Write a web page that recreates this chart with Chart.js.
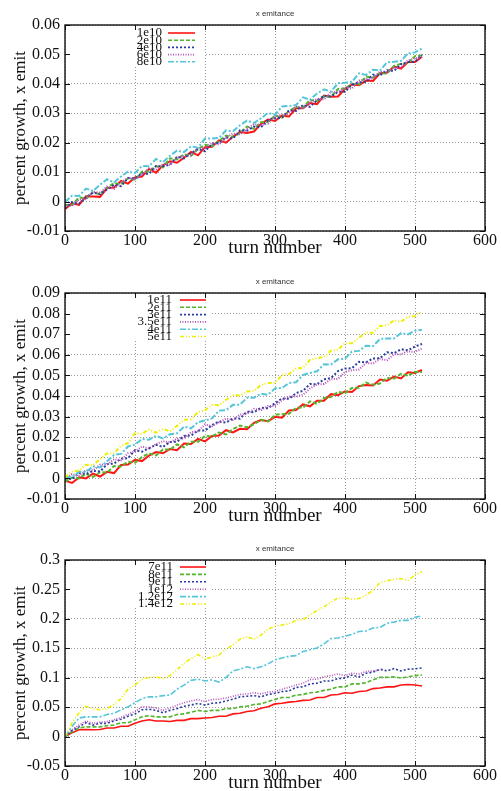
<!DOCTYPE html>
<html>
<head>
<meta charset="utf-8">
<script src="https://cdn.jsdelivr.net/npm/chart.js@4.4.0/dist/chart.umd.min.js"></script>
<style>
  html, body { margin: 0; padding: 0; background: #fff; }
  body { width: 501px; height: 791px; position: relative; overflow: hidden; }
  canvas { position: absolute; left: 0; }
</style>
</head>
<body>
<canvas id="g1" width="501" height="256" style="top:0px"></canvas>
<canvas id="g2" width="501" height="256" style="top:268px"></canvas>
<canvas id="g3" width="501" height="256" style="top:535px"></canvas>
<script>
// all emittance values below are in units of 1e-3
const UNIT = 0.001;
const plotTitle = 'x emitance';

const turns = [0, 10, 20, 30, 40, 50, 60, 70, 80, 90, 100, 110, 120, 130, 140, 150, 160, 170, 180, 190,
  200, 210, 220, 230, 240, 250, 260, 270, 280, 290, 300, 310, 320, 330, 340, 350, 360, 370, 380, 390,
  400, 410, 420, 430, 440, 450, 460, 470, 480, 490, 500, 510];

// top plot
const labels1 = ['1e10', '2e10', '4e10', '6e10', '8e10'];
const em1e10 = [-2.6, -0.6, -1.1, 1.8, 1.7, 1.6, 4.6, 4.8, 7.0, 6.1, 8.2, 8.5, 11.1, 9.8, 12.3, 13.7, 13.2, 14.9, 16.9, 15.7, 18.5, 18.6, 20.8, 20.0, 22.1, 23.6, 23.3, 23.8, 26.4, 27.9, 27.4, 29.2, 28.9, 31.7, 31.7, 33.5, 33.1, 36.0, 35.6, 35.7, 38.3, 39.8, 39.5, 41.1, 41.0, 43.6, 43.8, 45.9, 45.2, 47.4, 47.4, 49.2];
const em2e10 = [-1.2, -1.2, 1.4, 1.1, 3.1, 2.5, 4.7, 6.3, 5.9, 7.9, 7.4, 10.2, 10.2, 12.0, 11.6, 14.7, 14.3, 16.1, 15.5, 17.8, 19.3, 18.8, 20.6, 22.4, 22.0, 23.3, 25.5, 24.7, 27.0, 27.1, 29.2, 28.5, 30.8, 32.1, 31.9, 34.6, 34.2, 35.7, 35.6, 38.3, 38.4, 40.0, 39.8, 42.5, 42.1, 43.7, 43.5, 46.1, 46.8, 47.0, 49.4, 49.6];
const em4e10 = [-2.2, -0.2, -0.7, 1.4, 3.1, 2.5, 4.1, 5.7, 5.2, 8.0, 7.9, 9.6, 9.4, 12.1, 12.0, 12.6, 15.2, 14.7, 16.5, 17.9, 17.1, 19.6, 19.9, 21.8, 21.4, 24.2, 24.1, 25.5, 25.3, 27.7, 28.3, 28.5, 31.0, 30.8, 32.8, 32.2, 34.4, 35.9, 35.7, 37.3, 37.3, 39.8, 40.5, 40.6, 43.1, 42.9, 44.6, 44.4, 46.7, 47.4, 47.5, 49.8];
const em6e10 = [-1.1, -1.5, 0.7, 0.8, 3.4, 3.0, 5.1, 4.3, 6.6, 8.0, 7.6, 9.2, 11.3, 10.9, 12.8, 12.4, 15.0, 15.5, 15.7, 18.2, 18.1, 19.9, 19.4, 21.7, 23.1, 22.8, 24.6, 26.3, 26.0, 26.5, 29.0, 29.5, 29.9, 32.4, 31.6, 33.7, 34.9, 34.7, 37.3, 37.2, 38.8, 38.4, 41.1, 41.6, 41.8, 44.2, 44.0, 45.5, 45.5, 48.0, 48.6, 49.1];
const em8e10 = [-0.2, 2.0, 1.9, 4.4, 3.6, 5.7, 7.6, 6.5, 8.5, 10.2, 9.7, 12.1, 12.0, 14.5, 13.4, 15.6, 17.3, 16.8, 18.8, 18.3, 21.4, 21.4, 21.6, 24.2, 23.9, 25.9, 27.5, 26.7, 28.3, 30.1, 29.5, 32.3, 32.5, 32.8, 35.4, 34.6, 36.7, 38.1, 37.4, 40.2, 40.4, 40.7, 43.6, 43.0, 44.8, 44.5, 47.3, 47.5, 47.8, 50.4, 50.7, 52.0];

// middle plot
const labels2 = ['1e11', '2e11', '3e11', '3.5e11', '4e11', '5e11'];
const em1e11 = [-1.1, -2.2, 0.5, 0.0, 2.3, 0.9, 3.2, 2.6, 6.5, 6.7, 9.0, 8.4, 11.1, 12.8, 12.2, 14.3, 13.7, 16.9, 16.7, 19.2, 18.0, 20.6, 20.8, 23.4, 22.3, 24.1, 23.9, 27.0, 28.3, 27.8, 29.9, 29.5, 33.0, 33.2, 35.9, 35.0, 37.7, 37.7, 40.9, 40.4, 42.2, 41.9, 44.8, 45.3, 45.1, 48.0, 47.4, 49.4, 48.5, 51.5, 51.2, 52.7];
const em2e11 = [-1.6, 0.4, 0.0, 2.2, 0.7, 3.0, 2.8, 6.0, 5.8, 8.1, 7.6, 10.4, 12.1, 11.2, 14.0, 14.0, 16.5, 15.1, 17.8, 17.8, 20.6, 20.3, 22.3, 21.3, 23.9, 25.7, 24.8, 26.3, 28.4, 27.7, 30.9, 31.2, 31.4, 34.2, 34.4, 37.4, 36.2, 39.0, 39.5, 42.0, 41.4, 43.9, 44.0, 46.5, 45.5, 46.1, 48.7, 48.4, 50.8, 49.8, 51.8, 51.6];
const em3e11 = [0.0, -0.3, 2.6, 2.1, 3.7, 3.3, 6.9, 7.2, 9.6, 9.8, 13.7, 13.0, 14.6, 16.3, 15.3, 17.7, 17.8, 20.6, 20.8, 23.2, 23.2, 25.9, 27.6, 27.1, 29.1, 29.0, 32.4, 32.1, 34.3, 34.0, 36.5, 38.8, 38.6, 41.4, 42.5, 45.8, 45.7, 48.1, 48.7, 52.1, 53.3, 53.5, 56.6, 56.3, 58.2, 58.3, 61.2, 60.8, 62.7, 62.2, 64.0, 65.3];
const em35e11 = [-0.3, 2.0, 1.4, 4.0, 3.9, 6.6, 6.8, 9.3, 8.8, 12.2, 13.0, 15.5, 14.5, 16.6, 18.1, 17.4, 19.4, 19.3, 22.4, 22.9, 26.2, 25.3, 27.3, 29.0, 28.4, 31.0, 31.3, 33.8, 33.2, 35.1, 35.1, 38.0, 39.8, 39.7, 40.6, 43.6, 45.6, 45.8, 48.3, 48.3, 51.7, 52.5, 52.9, 56.0, 55.8, 58.0, 57.4, 60.3, 60.2, 61.7, 61.3, 63.1];
const em4e11 = [0.7, 0.6, 3.2, 3.1, 5.9, 5.3, 8.3, 11.4, 11.9, 15.5, 16.4, 19.1, 18.8, 20.6, 19.4, 21.4, 21.9, 25.1, 24.3, 27.3, 28.1, 29.1, 32.9, 33.1, 35.7, 35.8, 39.1, 39.2, 41.1, 40.6, 43.7, 43.9, 46.3, 46.7, 50.2, 51.2, 52.0, 55.4, 55.3, 57.8, 58.1, 61.6, 61.9, 64.4, 64.2, 67.7, 67.9, 67.9, 70.5, 69.9, 71.7, 72.1];
const em5e11 = [0.5, 3.3, 3.8, 6.6, 6.3, 9.4, 12.1, 12.2, 15.7, 17.2, 22.0, 21.7, 23.7, 22.2, 24.0, 22.8, 25.5, 28.5, 28.7, 32.2, 33.0, 35.7, 35.5, 38.2, 40.4, 40.2, 42.2, 42.3, 45.4, 46.3, 46.3, 50.2, 50.6, 53.3, 53.7, 57.5, 58.4, 58.9, 62.0, 62.5, 65.6, 65.7, 68.3, 70.8, 70.7, 74.0, 74.3, 76.7, 76.1, 78.3, 78.8, 81.1];

// bottom plot
const labels3 = ['7e11', '8e11', '9e11', '1e12', '1.2e12', '1.4e12'];
const em7e11 = [0, 6.5, 11.5, 12, 11.5, 12, 14.5, 14.5, 17.5, 17.5, 22.5, 26.5, 28.5, 26.5, 26.5, 25.5, 27.5, 27.5, 30.5, 30.5, 31.5, 32.5, 34.5, 34.5, 38.5, 39.5, 42.5, 44, 48, 50.5, 55.5, 56.5, 58.5, 59.5, 61.5, 62, 66.5, 66.5, 70.5, 71.5, 74.5, 73.5, 76.5, 77.5, 81.5, 82.5, 84.5, 84.5, 87.5, 88.5, 87.5, 86];
const em8e11 = [0, 8, 14.5, 16.5, 16.5, 16.5, 18.5, 19.5, 23.5, 23.5, 28.5, 33.5, 35.5, 33.5, 33.5, 33.5, 37.5, 38.5, 41.5, 44.5, 42.5, 44.5, 44.5, 47.5, 47.5, 50.5, 51.5, 54.5, 55.5, 59.5, 63, 66.5, 66.5, 70.5, 71.5, 74.5, 75.5, 78.5, 80.5, 84.5, 84.5, 89.5, 89.5, 91.5, 96.5, 100.5, 100.5, 101.5, 99.5, 101.5, 103.5, 104.5];
const em9e11 = [0, 10.5, 16.5, 23.5, 19.5, 22.5, 22.5, 26.5, 29.5, 34.5, 38.5, 45.5, 46.5, 44.5, 40.5, 44.5, 47.5, 51.5, 53.5, 56.5, 53.5, 56.5, 57.5, 60.5, 63.5, 67.5, 68.5, 69.5, 67.5, 71.5, 73.5, 76.5, 77.5, 83.5, 84.5, 89.5, 90.5, 94.5, 94.5, 98.5, 99.5, 104.5, 101.5, 107.5, 109.5, 114.5, 111.5, 115.5, 111.5, 114.5, 115, 116.5];
const em1e12 = [0, 11.5, 19.5, 26.5, 22.5, 24.5, 25.5, 28.5, 32.5, 37.5, 42.5, 50.5, 50.5, 48.5, 44.5, 48.5, 53.5, 57.5, 60.5, 63, 59.5, 63, 63.5, 65.5, 68.5, 71.5, 72.5, 74.5, 72.5, 75.5, 76.5, 80.5, 83.5, 87.5, 90.5, 97, 97.5, 101.5, 103.5, 106.5, 103.5, 107.5, 106.5, 110.5, 111.5, 113, null, null, null, null, null, null];
const em12e12 = [0, 17, 31.5, 33.5, 33.5, 33.5, 37.5, 39.5, 45.5, 50.5, 57.5, 64.5, 67.5, 67.5, 69.5, 70.5, 80.5, 87.5, 95.5, 97.5, 94.5, 96.5, 92.5, 100.5, 111.5, 114.5, 118.5, 115.5, 118.5, 123.5, 130.5, 133.5, 136.5, 137.5, 144.5, 147.5, 150.5, 157.5, 166.5, 167.5, 170.5, 173.5, 178.5, 179.5, 184.5, 185.5, 192.5, 194.5, 197.5, 197.5, 202.5, 205];
const em14e12 = [0, 23, 40.5, 51.5, 47.5, 45.5, 47.5, 54.5, 64.5, 80.5, 87.5, 97.5, 100.5, 101.5, 98.5, 103.5, 113.5, 124.5, 132.5, 139.5, 131.5, 135.5, 138.5, 148.5, 155.5, 165.5, 169.5, 165.5, 172.5, 182.5, 187.5, 189.5, 191.5, 197.5, 198.5, 206.5, 214.5, 220.5, 228.5, 235.5, 235.5, 233.5, 234.5, 240.5, 248.5, 261.5, 264.5, 267.5, 268.5, 265.5, 274.5, 280];

// gnuplot style line types
const colors = ['#ff1414', '#52b52c', '#2a3c9c', '#b352bc', '#55c6d9', '#eeee00'];
const dashes = [[], [4, 2], [2, 2], [1, 1.5], [6, 2, 2, 2], [4, 2, 1, 2, 1, 2]];

const serif = 'Liberation Serif';

function gnuplotLook(key) {
    return {
        id: 'gnuplotLook',
        beforeDatasetsDraw(chart) {
            const ctx = chart.ctx;
            const a = chart.chartArea;
            // opaque key box hides the grid behind it
            ctx.save();
            ctx.fillStyle = '#fff';
            ctx.fillRect(a.left + 1, a.top + 1, key.boxRight - a.left - 1, key.boxBottom - a.top - 1);
            ctx.restore();
        },
        afterDraw(chart) {
            const ctx = chart.ctx;
            const a = chart.chartArea;
            const xs = chart.scales.x, ys = chart.scales.y;
            ctx.save();

            // title
            ctx.fillStyle = '#333';
            ctx.font = '8px "Liberation Sans"';
            ctx.textAlign = 'center';
            ctx.textBaseline = 'middle';
            ctx.fillText(plotTitle, (a.left + a.right) / 2, 14);

            // key
            ctx.font = '13px "' + serif + '"';
            ctx.textAlign = 'right';
            ctx.fillStyle = '#111';
            chart.data.datasets.forEach((ds, i) => {
                const y = key.rowStart + i * key.rowGap;
                ctx.fillText(ds.label, key.textRight, y);
                ctx.save();
                ctx.strokeStyle = ds.borderColor;
                ctx.lineWidth = 1.6;
                ctx.setLineDash(ds.borderDash);
                ctx.beginPath();
                ctx.moveTo(key.sampleStart, y);
                ctx.lineTo(key.sampleEnd, y);
                ctx.stroke();
                ctx.restore();
            });

            // inward ticks on all four sides, then the frame
            ctx.strokeStyle = '#111';
            ctx.lineWidth = 1;
            ctx.beginPath();
            xs.ticks.forEach(t => {
                const px = Math.round(xs.getPixelForValue(t.value)) + 0.5;
                ctx.moveTo(px, a.bottom); ctx.lineTo(px, a.bottom - 5);
                ctx.moveTo(px, a.top); ctx.lineTo(px, a.top + 5);
            });
            ys.ticks.forEach(t => {
                const py = Math.round(ys.getPixelForValue(t.value)) + 0.5;
                ctx.moveTo(a.left, py); ctx.lineTo(a.left + 5, py);
                ctx.moveTo(a.right, py); ctx.lineTo(a.right - 5, py);
            });
            ctx.stroke();
            ctx.lineWidth = 1.4;
            ctx.strokeRect(a.left, a.top, a.right - a.left, a.bottom - a.top);
            ctx.restore();
        }
    };
}

function makePanel(canvasId, labels, series, yMin, yMax, yStep, lineWidth, key) {
    const n = series.length;
    const datasets = series.map((vals, i) => ({
        label: labels[i],
        data: turns.map((t, j) => ({x: t, y: vals[j] === null ? null : vals[j] * UNIT})),
        borderColor: colors[i],
        borderDash: dashes[i],
        borderWidth: lineWidth,
        pointRadius: 0,
        fill: false,
        tension: 0,
        order: n - i
    }));

    const tickFont = {family: serif, size: 16};
    return new Chart(document.getElementById(canvasId), {
        type: 'line',
        data: {datasets: datasets},
        options: {
            responsive: false,
            animation: false,
            layout: {padding: {top: 25, right: 16, bottom: 0, left: 0}},
            plugins: {legend: {display: false}, tooltip: {enabled: false}},
            scales: {
                x: {
                    type: 'linear', min: 0, max: 600,
                    afterFit: s => { s.height = 25; },
                    ticks: {stepSize: 100, padding: 0, color: '#111', font: tickFont, maxRotation: 0, autoSkip: false},
                    grid: {color: '#9a9a9a', lineWidth: 1, drawTicks: false},
                    border: {display: false, dash: [1, 2]},
                    title: {display: true, text: 'turn number', color: '#111',
                        font: {family: serif, size: 19, lineHeight: 1}, padding: {top: 0, bottom: -2}}
                },
                y: {
                    min: yMin, max: yMax,
                    afterFit: s => { s.width = 65; },
                    ticks: {stepSize: yStep, padding: 5, color: '#111', font: tickFont, autoSkip: false,
                        callback: v => String(Math.round(v * 1000) / 1000)},
                    grid: {color: '#9a9a9a', lineWidth: 1, drawTicks: false},
                    border: {display: false, dash: [1, 2]},
                    title: {display: true, text: 'percent growth, x emit', color: '#111',
                        font: {family: serif, size: 17, lineHeight: 1}, padding: {top: 12, bottom: 0}}
                }
            }
        },
        plugins: [gnuplotLook(key)]
    });
}

makePanel('g1', labels1, [em1e10, em2e10, em4e10, em6e10, em8e10], -0.01, 0.06, 0.01, 2,
    {textRight: 162, sampleStart: 168, sampleEnd: 195, rowStart: 33, rowGap: 7.2, boxRight: 204, boxBottom: 67});
makePanel('g2', labels2, [em1e11, em2e11, em3e11, em35e11, em4e11, em5e11], -0.01, 0.09, 0.01, 2,
    {textRight: 172, sampleStart: 180, sampleEnd: 206, rowStart: 32, rowGap: 7.3, boxRight: 212, boxBottom: 72});
makePanel('g3', labels3, [em7e11, em8e11, em9e11, em1e12, em12e12, em14e12], -0.05, 0.3, 0.05, 1.6,
    {textRight: 173, sampleStart: 180, sampleEnd: 206, rowStart: 32, rowGap: 7.4, boxRight: 212, boxBottom: 72});
</script>
</body>
</html>
